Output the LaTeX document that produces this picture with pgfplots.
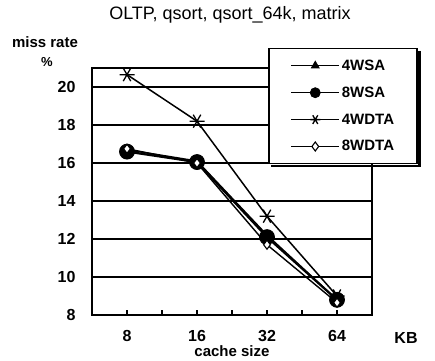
\documentclass[border=0pt]{standalone}
\usepackage{pgfplots}
\pgfplotsset{compat=1.18}
\usepackage{fontspec}
\setmainfont{Liberation Sans}
\begin{document}
\begin{tikzpicture}[x=1pt,y=1pt]
\useasboundingbox (0,0) rectangle (435,360);
\begin{axis}[
  at={(92pt,45pt)}, anchor=south west,
  scale only axis, width=280pt, height=247pt,
  xmin=-0.5, xmax=3.5, ymin=8, ymax=21,
  xtick={0,1,2,3}, xticklabels={8,16,32,64},
  minor xtick={0.5,1.5,2.5},
  ytick={8,10,...,20},
  ymajorgrids, major grid style={black, line width=1.4pt},
  axis line style={line width=1.8pt},
  tick align=inside, xtick pos=bottom, ytick pos=left,
  major tick length=5pt, minor tick length=5pt,
  xtick style={black, line width=1.2pt},
  minor tick style={black, line width=1.2pt},
  ytick style={draw=none},
  tick label style={font=\fontsize{16}{18}\selectfont\bfseries},
  xticklabel style={yshift=-12pt},
  yticklabel style={xshift=-13pt},
  /pgf/number format/assume math mode=true,
  legend image code/.code={\node[inner sep=0pt, minimum size=0pt, draw=none, fill=none] at (-20pt,0pt) {}; \draw[mark repeat=2,mark phase=2] plot coordinates {(0pt,0pt)(24pt,0pt)(48pt,0pt)};},
  legend image post style={mark size=4.5pt, line width=1.2pt},
  legend style={name=leg, at={(0.629,1.081)}, anchor=north west, draw=black, line width=1.5pt,
    fill=white, font=\fontsize{15}{17}\selectfont\bfseries, row sep=11pt,
    inner xsep=3pt, inner ysep=9pt},
  legend cell align=left,
  clip=false,
]
\addplot[black, line width=1.6pt, mark=triangle*, mark size=5pt, mark options={solid, line width=0.8pt}]
  coordinates {(0,16.7) (1,16.1) (2,12.2) (3,8.8)};
\addlegendentry{\makebox[70pt][l]{4WSA}}
\addplot[black, line width=2.2pt, mark=*, mark size=7.5pt, mark options={solid, line width=0.8pt}, legend image post style={mark size=5pt}]
  coordinates {(0,16.6) (1,16.05) (2,12.1) (3,8.8)};
\addlegendentry{\makebox[70pt][l]{8WSA}}
\addplot[black, line width=1.5pt, mark=asterisk, mark size=7.5pt, mark options={solid, rotate=90, line width=1.3pt}, legend image post style={mark size=5pt}]
  coordinates {(0,20.65) (1,18.2) (2,13.2) (3,9.0)};
\addlegendentry{\makebox[70pt][l]{4WDTA}}
\addplot[black, line width=1.4pt, mark=diamond*, mark size=4.5pt, mark options={solid, fill=white, line width=1.1pt}]
  coordinates {(0,16.75) (1,16.0) (2,11.7) (3,8.65)};
\addlegendentry{\makebox[70pt][l]{8WDTA}}
\end{axis}
\draw[line width=2.5pt] ([xshift=2pt,yshift=-3pt]leg.north east) -- ([xshift=2pt,yshift=-2pt]leg.south east) -- ([xshift=3pt,yshift=-2pt]leg.south west);
\node[font=\fontsize{18}{20}\selectfont] at (230,345) {OLTP, qsort, qsort\_64k, matrix};
\node[font=\fontsize{15}{17}\selectfont\bfseries] at (45,318) {miss rate};
\node[font=\fontsize{13}{15}\selectfont\bfseries] at (47,298) {\%};
\node[font=\fontsize{16}{18}\selectfont\bfseries] at (406,22) {KB};
\node[font=\fontsize{15}{17}\selectfont\bfseries, anchor=base] at (232,4) {cache size};
\end{tikzpicture}
\end{document}
